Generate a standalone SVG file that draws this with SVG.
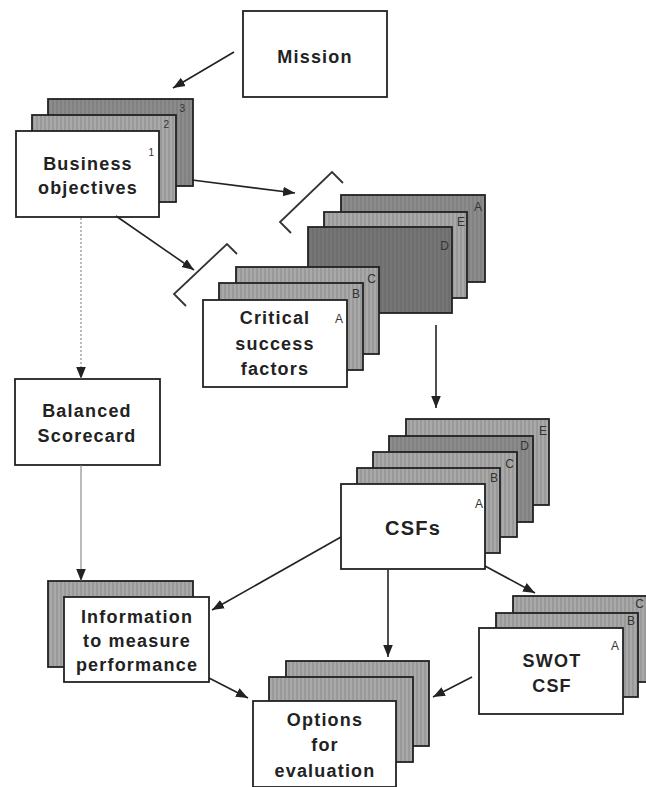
<svg xmlns="http://www.w3.org/2000/svg" width="646" height="787" viewBox="0 0 646 787">
<defs>
<style>
.t{font-family:"Liberation Sans",Arial,sans-serif;font-weight:bold;font-size:18px;fill:#222;text-anchor:middle;letter-spacing:1.2px}
.big{font-size:20px}
.lb{font-family:"Liberation Sans",Arial,sans-serif;font-size:12px;fill:#333;text-anchor:end}
.lbs{font-family:"Liberation Sans",Arial,sans-serif;font-size:10px;fill:#333;text-anchor:end}
.w{fill:#fff;stroke:#222;stroke-width:1.8}
.g{fill:url(#g1);stroke:#222;stroke-width:1.8}
.d{fill:url(#g2);stroke:#222;stroke-width:1.8}
.m{fill:url(#g3);stroke:#222;stroke-width:1.8}
.c{fill:none;stroke:#222;stroke-width:1.6;marker-end:url(#ah)}
.thin{fill:none;stroke:#777;stroke-width:1;marker-end:url(#ah)}
.br{fill:none;stroke:#333;stroke-width:1.8}
</style>
<pattern id="g1" width="4" height="4" patternUnits="userSpaceOnUse"><rect width="4" height="4" fill="#a9a9a9"/><line x1="1" y1="0" x2="1" y2="4" stroke="#939393" stroke-width="1.4"/></pattern>
<pattern id="g2" width="4" height="4" patternUnits="userSpaceOnUse"><rect width="4" height="4" fill="#767676"/><line x1="1" y1="0" x2="1" y2="4" stroke="#6a6a6a" stroke-width="1.4"/></pattern>
<pattern id="g3" width="4" height="4" patternUnits="userSpaceOnUse"><rect width="4" height="4" fill="#8c8c8c"/><line x1="1" y1="0" x2="1" y2="4" stroke="#7c7c7c" stroke-width="1.4"/></pattern>
<marker id="ah" viewBox="0 0 10 10" refX="10" refY="5" markerWidth="12" markerHeight="12" markerUnits="userSpaceOnUse" orient="auto"><path d="M0,1 L10,5 L0,9 z" fill="#222"/></marker>
</defs>
<rect width="646" height="787" fill="#fff"/>

<g id="mission">
<rect class="w" x="243" y="11" width="144" height="86"/>
<text class="t" x="315" y="63">Mission</text>
</g>

<g id="business-objectives">
<rect class="m" x="48" y="99" width="145" height="87"/>
<text class="lbs" x="185" y="112">3</text>
<rect class="g" x="32" y="115" width="144" height="87"/>
<text class="lbs" x="169" y="128">2</text>
<rect class="w" x="16" y="131" width="143" height="86"/>
<text class="lbs" x="154" y="156">1</text>
<text class="t" x="88" y="170">Business</text>
<text class="t" x="88" y="194">objectives</text>
</g>

<g id="csf-stack-right">
<rect class="m" x="341" y="195" width="144" height="87"/>
<text class="lb" x="482" y="211">A</text>
<rect class="g" x="324" y="212" width="143" height="86"/>
<text class="lb" x="465" y="226">E</text>
<rect class="d" x="308" y="227" width="144" height="86"/>
<text class="lb" x="449" y="250">D</text>
</g>

<g id="critical-success-factors">
<rect class="g" x="236" y="267" width="143" height="87"/>
<text class="lb" x="376" y="283">C</text>
<rect class="g" x="219" y="283" width="144" height="87"/>
<text class="lb" x="360" y="298">B</text>
<rect class="w" x="203" y="300" width="144" height="87"/>
<text class="lb" x="343" y="323">A</text>
<text class="t" x="275" y="324">Critical</text>
<text class="t" x="275" y="350">success</text>
<text class="t" x="275" y="375">factors</text>
</g>

<g id="brackets">
<polyline class="br" points="291,233 280,222 332,172 343,183"/>
<polyline class="br" points="186,306 174,294 227,244 237,254"/>
</g>

<g id="balanced-scorecard">
<rect class="w" x="15" y="379" width="145" height="86"/>
<text class="t" x="87" y="417">Balanced</text>
<text class="t" x="87" y="442">Scorecard</text>
</g>

<g id="csfs">
<rect class="g" x="406" y="419" width="143" height="86"/>
<text class="lb" x="547" y="435">E</text>
<rect class="m" x="389" y="436" width="144" height="86"/>
<text class="lb" x="529" y="450">D</text>
<rect class="g" x="373" y="452" width="144" height="85"/>
<text class="lb" x="514" y="468">C</text>
<rect class="g" x="357" y="468" width="143" height="85"/>
<text class="lb" x="498" y="482">B</text>
<rect class="w" x="341" y="484" width="144" height="85"/>
<text class="lb" x="483" y="508">A</text>
<text class="t big" x="413" y="535">CSFs</text>
</g>

<g id="information">
<rect class="g" x="48" y="581" width="145" height="86"/>
<rect class="w" x="64" y="597" width="145" height="85"/>
<text class="t" x="137" y="623">Information</text>
<text class="t" x="137" y="647">to measure</text>
<text class="t" x="137" y="671">performance</text>
</g>

<g id="swot-csf">
<rect class="g" x="513" y="596" width="145" height="86"/>
<text class="lb" x="644" y="608">C</text>
<rect class="g" x="496" y="613" width="142" height="84"/>
<text class="lb" x="635" y="625">B</text>
<rect class="w" x="479" y="628" width="144" height="86"/>
<text class="lb" x="619" y="650">A</text>
<text class="t" x="552" y="667">SWOT</text>
<text class="t" x="552" y="692">CSF</text>
</g>

<g id="options">
<rect class="g" x="286" y="661" width="143" height="85"/>
<rect class="g" x="269" y="677" width="144" height="85"/>
<rect class="w" x="253" y="701" width="143" height="86"/>
<text class="t" x="325" y="726">Options</text>
<text class="t" x="325" y="751">for</text>
<text class="t" x="325" y="777">evaluation</text>
</g>

<g id="connectors">
<line class="c" x1="234" y1="52" x2="173" y2="88"/>
<line class="c" x1="192" y1="180" x2="295" y2="193"/>
<line class="c" x1="116" y1="216" x2="194" y2="270"/>
<line class="c" x1="436" y1="325" x2="436" y2="408"/>
<line class="thin" x1="81" y1="218" x2="81" y2="379" stroke-dasharray="2,2"/>
<line class="thin" x1="81" y1="465" x2="81" y2="581"/>
<line class="c" x1="341" y1="537" x2="212" y2="610"/>
<line class="c" x1="388" y1="570" x2="388" y2="657"/>
<line class="c" x1="485" y1="566" x2="535" y2="593"/>
<line class="c" x1="472" y1="677" x2="433" y2="697"/>
<line class="c" x1="209" y1="678" x2="248" y2="698"/>
</g>
</svg>
